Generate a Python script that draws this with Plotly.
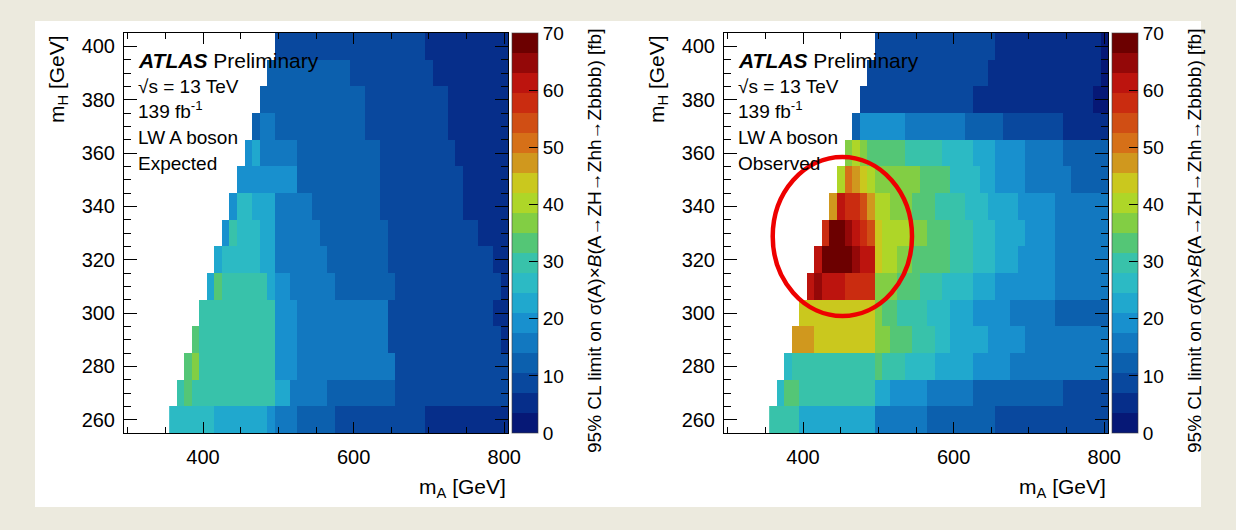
import plotly.graph_objects as go

# ---------------------------------------------------------------------------
# Data: 95% CL upper limits [fb] on the (mA, mH) grid, 10 GeV bins.
# Each row lists runs of equal limit as (mA_first, mA_last, limit).
# ---------------------------------------------------------------------------
MA_CENTERS = list(range(360, 801, 10))
MH_CENTERS = list(range(260, 401, 10))

EXPECTED_ROWS = {
    400: [(500, 690, 9), (700, 800, 5)],
    390: [(490, 590, 12), (600, 700, 9), (710, 800, 5)],
    380: [(480, 610, 12), (620, 720, 9), (730, 800, 5)],
    370: [(470, 470, 12), (480, 490, 16), (500, 610, 12), (620, 720, 9), (730, 800, 5)],
    360: [(460, 460, 19), (470, 470, 23), (480, 490, 16), (500, 520, 16), (530, 630, 12),
          (640, 730, 9), (740, 800, 5)],
    350: [(450, 450, 19), (460, 520, 19), (530, 630, 12), (640, 740, 9), (750, 800, 5)],
    340: [(440, 440, 19), (450, 460, 26), (470, 490, 23), (500, 540, 16), (550, 630, 12),
          (640, 740, 9), (750, 800, 5)],
    330: [(430, 430, 19), (440, 440, 30), (450, 470, 26), (480, 490, 23), (500, 550, 16),
          (560, 640, 12), (650, 760, 9), (770, 800, 5)],
    320: [(420, 420, 23), (430, 470, 26), (480, 490, 23), (500, 560, 16), (570, 640, 12),
          (650, 780, 9), (790, 800, 5)],
    310: [(410, 410, 23), (420, 420, 33), (430, 480, 28), (490, 490, 23), (500, 510, 19),
          (520, 570, 16), (580, 650, 12), (660, 790, 9), (800, 800, 5)],
    300: [(400, 490, 28), (500, 520, 19), (530, 640, 16), (650, 780, 10), (790, 800, 5)],
    290: [(390, 390, 33), (400, 490, 28), (500, 520, 19), (530, 640, 16), (650, 790, 10),
          (800, 800, 5)],
    280: [(380, 380, 33), (390, 390, 35), (400, 490, 28), (500, 520, 19), (530, 650, 16),
          (660, 800, 10)],
    270: [(370, 370, 30), (380, 380, 34), (390, 420, 31), (430, 490, 28), (500, 510, 23),
          (520, 560, 16), (570, 650, 12), (660, 800, 9)],
    260: [(360, 410, 27), (420, 480, 23), (490, 490, 19), (500, 520, 16), (530, 570, 12),
          (580, 690, 9), (700, 800, 5)],
}

OBSERVED_ROWS = {
    400: [(500, 650, 9), (660, 790, 5), (800, 800, 3)],
    390: [(490, 640, 9), (650, 790, 5), (800, 800, 2)],
    380: [(480, 620, 9), (630, 780, 5), (790, 800, 2)],
    370: [(470, 470, 12), (480, 530, 19), (540, 610, 16), (620, 660, 12), (670, 740, 9),
          (750, 800, 5)],
    360: [(460, 460, 37), (470, 470, 40), (480, 480, 37), (490, 530, 33), (540, 580, 30),
          (590, 620, 26), (630, 650, 23), (660, 690, 19), (700, 740, 16), (750, 800, 12)],
    350: [(450, 450, 40), (460, 460, 51), (470, 470, 47), (480, 480, 44), (490, 490, 40),
          (500, 550, 37), (560, 590, 32), (600, 630, 26), (640, 650, 23), (660, 690, 19),
          (700, 750, 16), (760, 800, 12)],
    340: [(440, 440, 47), (450, 450, 61), (460, 470, 58), (480, 480, 54), (490, 490, 47),
          (500, 510, 40), (520, 540, 37), (550, 570, 33), (580, 610, 30), (620, 640, 26),
          (650, 680, 23), (690, 730, 19), (740, 800, 16)],
    330: [(430, 430, 58), (440, 450, 68), (460, 460, 65), (470, 470, 61), (480, 480, 58),
          (490, 490, 54), (500, 500, 44), (510, 540, 40), (550, 560, 37), (570, 590, 33),
          (600, 620, 30), (630, 650, 26), (660, 690, 23), (700, 730, 19), (740, 800, 16)],
    320: [(420, 420, 61), (430, 460, 68), (470, 470, 65), (480, 490, 61), (500, 500, 44),
          (510, 520, 40), (530, 540, 37), (550, 590, 33), (600, 620, 30), (630, 650, 26),
          (660, 680, 23), (690, 730, 19), (740, 800, 16)],
    310: [(410, 410, 61), (420, 420, 65), (430, 450, 61), (460, 490, 58), (500, 520, 37),
          (530, 550, 33), (560, 580, 30), (590, 620, 26), (630, 650, 23), (660, 730, 19),
          (740, 800, 16)],
    300: [(400, 470, 44), (480, 490, 42), (500, 500, 37), (510, 520, 33), (530, 560, 30),
          (570, 590, 26), (600, 620, 23), (630, 670, 19), (680, 730, 16), (740, 800, 12)],
    290: [(390, 410, 47), (420, 490, 44), (500, 510, 37), (520, 540, 33), (550, 570, 30),
          (580, 590, 26), (600, 640, 23), (650, 690, 19), (700, 800, 16)],
    280: [(380, 380, 26), (390, 390, 30), (400, 490, 28), (500, 500, 33), (510, 530, 30),
          (540, 570, 26), (580, 620, 23), (630, 670, 19), (680, 800, 16)],
    270: [(370, 370, 26), (380, 390, 33), (400, 490, 29), (500, 510, 23), (520, 560, 19),
          (570, 620, 16), (630, 740, 12), (750, 800, 9)],
    260: [(360, 390, 28), (400, 490, 23), (500, 560, 16), (570, 650, 12), (660, 800, 9)],
}

X_TICKS = [400, 600, 800]
Y_TICKS = [260, 280, 300, 320, 340, 360, 380, 400]
Z_TICKS = [0, 10, 20, 30, 40, 50, 60, 70]

# 20-level palette, 3.5 fb per level
PALETTE = [
    "rgb(6,24,118)", "rgb(6,46,138)", "rgb(9,72,158)", "rgb(12,96,174)",
    "rgb(18,120,192)", "rgb(24,144,206)", "rgb(32,168,206)", "rgb(44,186,196)",
    "rgb(56,194,170)", "rgb(84,198,118)", "rgb(130,206,68)", "rgb(174,214,40)",
    "rgb(202,200,30)", "rgb(208,152,30)", "rgb(214,112,24)", "rgb(208,78,20)",
    "rgb(202,44,16)", "rgb(188,20,14)", "rgb(148,8,8)", "rgb(108,0,0)",
]

W, H = 1236, 530
FONT = "Liberation Sans, Arial, Helvetica, sans-serif"


def px(x):
    return x / W


def py(y):
    return 1 - y / H


def grid(rows):
    z = []
    for mh in MH_CENTERS:
        line = [None] * len(MA_CENTERS)
        for lo, hi, val in rows.get(mh, []):
            for i, ma in enumerate(MA_CENTERS):
                if lo <= ma <= hi:
                    line[i] = val
        z.append(line)
    return z


n = len(PALETTE)
colorscale = []
for i, c in enumerate(PALETTE):
    colorscale.append([i / n, c])
    colorscale.append([(i + 1) / n, c])

fig = go.Figure()
fig.add_trace(go.Heatmap(x=MA_CENTERS, y=MH_CENTERS, z=grid(EXPECTED_ROWS),
                         coloraxis="coloraxis", xaxis="x", yaxis="y",
                         hoverongaps=False))
fig.add_trace(go.Heatmap(x=MA_CENTERS, y=MH_CENTERS, z=grid(OBSERVED_ROWS),
                         coloraxis="coloraxis2", xaxis="x2", yaxis="y2",
                         hoverongaps=False))

PLOT_L = [124, 724]
PLOT_W = 384
PLOT_TOP, PLOT_BOT = 33, 433


def xaxis_cfg(left):
    return dict(
        domain=[px(left), px(left + PLOT_W)], range=[295, 805], automargin=False,
        tickvals=X_TICKS, ticks="inside", ticklen=11, tickwidth=1, tickcolor="black",
        minor=dict(ticks="inside", ticklen=6, dtick=50, tick0=300, tickcolor="black"),
        showline=True, linecolor="black", linewidth=1, mirror="allticks",
        showgrid=False, zeroline=False,
        tickfont=dict(family=FONT, size=20, color="black"), ticklabelstandoff=6,
    )


def yaxis_cfg():
    return dict(
        domain=[py(PLOT_BOT), py(PLOT_TOP)], range=[255, 405], automargin=False,
        tickvals=Y_TICKS, ticks="inside", ticklen=13, tickwidth=1, tickcolor="black",
        minor=dict(ticks="inside", ticklen=7, dtick=5, tick0=255, tickcolor="black"),
        showline=True, linecolor="black", linewidth=1, mirror="allticks",
        showgrid=False, zeroline=False,
        tickfont=dict(family=FONT, size=20, color="black"), ticklabelstandoff=4,
    )


def cbar(left):
    return dict(
        colorscale=colorscale, cmin=0, cmax=70,
        colorbar=dict(
            x=px(left + PLOT_W + 4), xanchor="left", y=py(PLOT_TOP), yanchor="top",
            len=PLOT_BOT - PLOT_TOP, lenmode="pixels", thickness=26, thicknessmode="pixels",
            xpad=0, ypad=0, outlinewidth=1, outlinecolor="rgba(60,60,60,0.6)",
            tickvals=Z_TICKS, ticks="inside", ticklen=9, tickcolor="black",
            tickfont=dict(family=FONT, size=19, color="black"),
        ),
    )


fig.update_layout(
    width=W, height=H, autosize=False, margin=dict(l=0, r=0, t=0, b=0, pad=0),
    paper_bgcolor="rgb(236,234,222)", plot_bgcolor="white",
    xaxis=xaxis_cfg(PLOT_L[0]), yaxis=yaxis_cfg(),
    xaxis2=dict(xaxis_cfg(PLOT_L[1]), anchor="y2"),
    yaxis2=dict(yaxis_cfg(), anchor="x2"),
    coloraxis=cbar(PLOT_L[0]), coloraxis2=cbar(PLOT_L[1]),
    showlegend=False,
)
fig.layout.xaxis.anchor = "y"
fig.layout.yaxis.anchor = "x"

# white page panel
fig.add_shape(type="rect", xref="paper", yref="paper",
              x0=px(35), x1=px(1201), y0=py(507), y1=py(21),
              fillcolor="white", line_width=0, layer="below")

annotations = []
labels = ["Expected", "Observed"]
for k, left in enumerate(PLOT_L):
    off = left - 124
    tx = 136 + off
    annotations += [
        dict(text="<b><i>ATLAS</i></b> Preliminary", x=px(tx), y=py(61), size=21),
        dict(text="√s = 13 TeV", x=px(tx), y=py(87), size=19),
        dict(text="139 fb<sup>-1</sup>", x=px(tx), y=py(110), size=19),
        dict(text="LW A boson", x=px(tx), y=py(138), size=19),
        dict(text=labels[k], x=px(tx), y=py(163), size=19),
    ]
texts = []
for a in annotations:
    texts.append(dict(text=a["text"], x=a["x"], y=a["y"], xref="paper", yref="paper",
                      xanchor="left", yanchor="middle", showarrow=False,
                      font=dict(family=FONT, size=a["size"], color="black")))

for left in PLOT_L:
    off = left - 124
    # x-axis title
    texts.append(dict(text="m<sub>A</sub> [GeV]", x=px(508 + off), y=py(488),
                      xref="paper", yref="paper", xanchor="right", yanchor="middle",
                      showarrow=False, font=dict(family=FONT, size=21, color="black")))
    # y-axis title
    texts.append(dict(text="m<sub>H</sub> [GeV]", x=px(58 + off), y=py(33),
                      xref="paper", yref="paper", xanchor="center", yanchor="top",
                      textangle=-90, showarrow=False,
                      font=dict(family=FONT, size=21, color="black")))
    # colour-axis title
    texts.append(dict(text="95% CL limit on σ(A)×<i>B</i>(A→ZH→Zhh→Zbbbb) [fb]",
                      x=px(594 + off), y=py(27), xref="paper", yref="paper",
                      xanchor="center", yanchor="top", textangle=-90, showarrow=False,
                      font=dict(family=FONT, size=19, color="black")))

fig.update_layout(annotations=texts)

# highlighted excess region in the observed limits
fig.add_shape(type="circle", xref="x2", yref="y2",
              x0=359.7, x1=544.7, y0=298.9, y1=358.5,
              line=dict(color="rgb(238,0,0)", width=4.5))

fig.write_html("out.html")
